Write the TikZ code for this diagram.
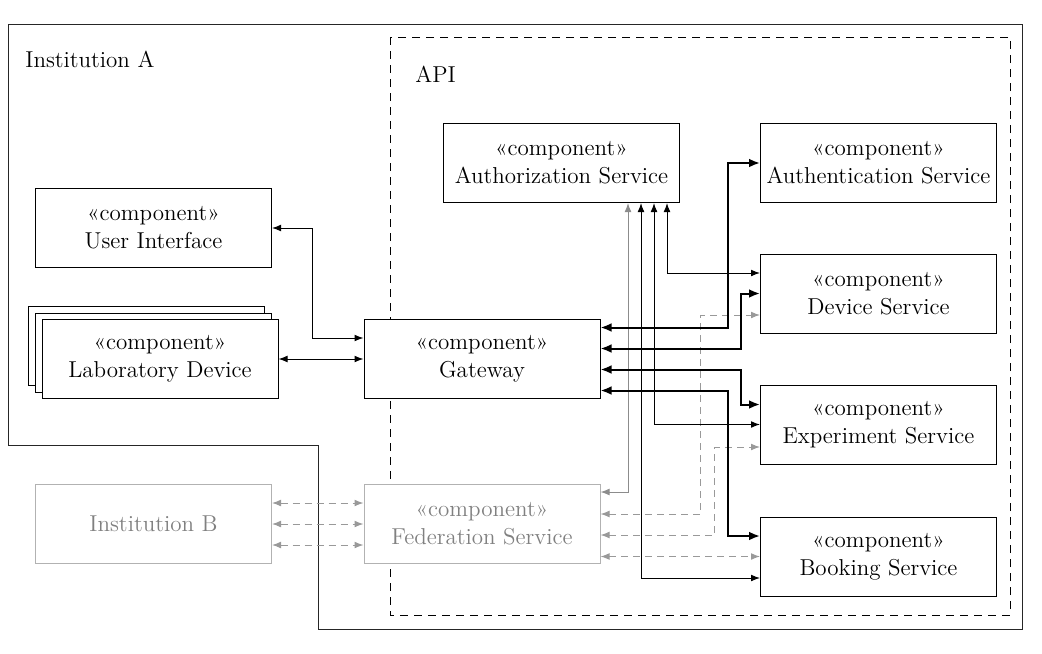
\documentclass[tikz,border=0pt]{standalone}
\usepackage{fontspec}
\usetikzlibrary{positioning, arrows.meta, shadows}

\begin{document}
\begin{tikzpicture}
[
    x=0.5pt, y=-0.5pt,
    % Boxes are named by the service: authz, authn, dev, exp, book, ...
    % Connectors leave a box at a shifted anchor, 10.5pt apart
    font=\fontsize{11.5}{14}\selectfont
]

%=================================== Start ===================================
\tikzstyle{comp} = [draw, fill=white, align=center, minimum width=118pt,
                    minimum height=39.5pt, inner sep=0pt, line width=0.5pt]
\tikzstyle{fade} = [draw=black!30, text=black!50]
\tikzstyle{lbl}  = [inner sep=0pt, anchor=base west]
\tikzstyle{link} = [line width=0.5pt,
                    {Latex[length=4.5pt,width=3.4pt]}-{Latex[length=4.5pt,width=3.4pt]}]
\tikzstyle{bold} = [line width=1pt,
                    {Latex[length=5.5pt,width=4.4pt]}-{Latex[length=5.5pt,width=4.4pt]}]
\tikzstyle{fed}  = [link, black!40, dash pattern=on 3.5pt off 2.5pt]

\useasboundingbox (0,0) rectangle (1042,653);

% Draw frames
\draw[line width=0.5pt, black!85] (8,24) -- (1022,24) -- (1022,629) -- (318,629)
                        -- (318,445) -- (8,445) -- cycle;
\draw[line width=0.45pt, dash pattern=on 4pt off 3pt] (390,37) rectangle (1010,615);
\node[lbl] (inst-a) at (25,67) {Institution A};
\node[lbl] (api) at (415,82) {API};

% Draw components
\node[comp] (authz) at (561.5,163) {«component»\\Authorization Service};
\foreach \name / \y / \txt in {authn/163/Authentication Service,
                               dev/293.5/Device Service,
                               exp/424.5/Experiment Service,
                               book/556.5/Booking Service}
    \node[comp] (\name) at (878.5,\y) {«component»\\\txt};
\node[comp] (ui) at (153.5,228) {«component»\\User Interface};
\node[comp, double copy shadow={shadow xshift=-3.5pt, shadow yshift=3.25pt}]
      (lab) at (160,359) {«component»\\Laboratory Device};
\node[comp] (gw) at (482,359) {«component»\\Gateway};
\node[comp, fade] (inst-b) at (153.5,524) {Institution B};
\node[comp, fade] (fedsrv) at (482,524) {«component»\\Federation Service};

% Federation connections
\foreach \s in {10.5pt, 0pt, -10.5pt}
    \draw[fed] ([yshift=\s]inst-b.east) -- ([yshift=\s]fedsrv.west);
\draw[fed] ([yshift=5pt]fedsrv.east) -- ++(100,0) |- ([yshift=-10.75pt]dev.west);
\draw[fed] ([yshift=-5.5pt]fedsrv.east) -- ++(114,0) |- ([yshift=-11.25pt]exp.west);
\draw[fed] (fedsrv.east |- book.west) -- (book.west);

% Authorization connections
\draw[link, black!45] ([yshift=16pt]fedsrv.east) -| ([xshift=33.25pt]authz.south);
\draw[link] ([xshift=39.75pt]authz.south) |- ([yshift=-10.75pt]book.west);
\draw[link] ([xshift=46.25pt]authz.south) |- (exp.west);
\draw[link] ([xshift=52.75pt]authz.south) |- ([yshift=10.25pt]dev.west);

% Gateway connections
\draw[link] (ui.east) -- ++(40,0) |- ([yshift=10.5pt]gw.west);
\draw[link] (lab.east) -- (gw.west);
\draw[bold] ([yshift=15.75pt]gw.east) -- ++(127,0) |- (authn.west);
\draw[bold] ([yshift=5.25pt]gw.east) -- ++(140,0) |- (dev.west);
\draw[bold] ([yshift=-5.25pt]gw.east) -- ++(140,0) |- ([yshift=10pt]exp.west);
\draw[bold] ([yshift=-15.75pt]gw.east) -- ++(127,0) |- ([yshift=10.25pt]book.west);
%==================================== END ====================================

\end{tikzpicture}
\end{document}
